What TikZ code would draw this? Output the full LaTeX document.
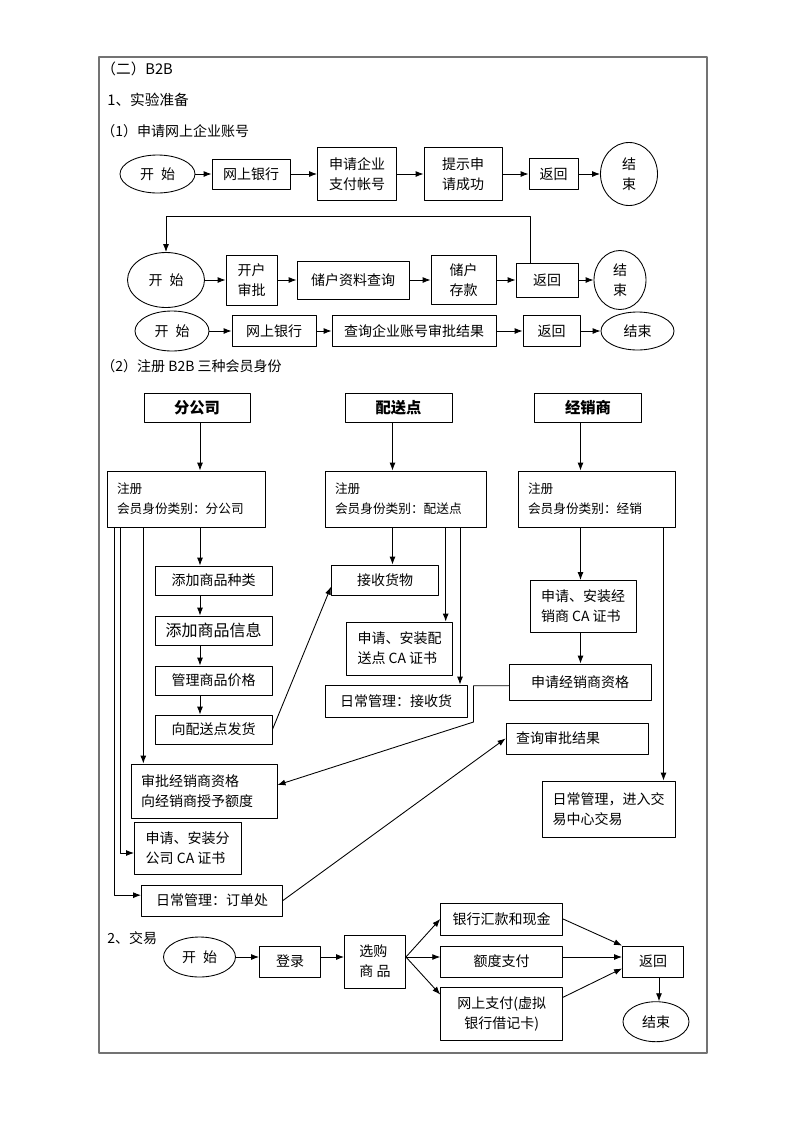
\documentclass[tikz,border=0pt]{standalone}
\usepackage{fontspec}
\setmainfont{Noto Sans CJK SC}
\usetikzlibrary{arrows.meta,shapes.geometric}

\tikzset{
  box/.style={draw, inner sep=0pt, align=center},
  oval/.style={draw, ellipse, inner sep=0pt, align=center},
  lbox/.style={draw, inner xsep=7.5pt, inner ysep=0pt, align=left, text width=#1},
  sz/.style 2 args={minimum width=#1*0.75pt, minimum height=#2*0.75pt},
  regfont/.style={font=\fontsize{9.5}{15}\selectfont},
  headfont/.style={font=\fontsize{11.5}{14}\selectfont\bfseries},
}
\newcommand{\kaishi}{开\hspace{0.5em}始}

\begin{document}
\begin{tikzpicture}[x=0.75pt, y=-0.75pt, line width=0.65pt, line cap=round, line join=round,
  >={Latex[length=6pt,width=4.5pt]}, font=\fontsize{10.5}{15}\selectfont]
	\useasboundingbox (0,0) rectangle (800,1132);
	% 外框
	\draw[black!55, line width=1.2pt] (99,57) rectangle (707,1053);
	% 标题
	\node[anchor=west, inner sep=0pt, font=\fontsize{11}{13}\selectfont] (title) at (101,69) {（二）B2B};
	\node[anchor=west, inner sep=0pt, font=\fontsize{11}{13}\selectfont] (sec1) at (107,100) {1、实验准备};
	\node[anchor=west, inner sep=0pt] (sub1) at (101,131) {（1）申请网上企业账号};

	% 第一行
	\node[oval, sz={75}{38}] (s1) at (157.5,174) {\kaishi};
	\node[box, sz={78}{30}] (n11) at (251,174) {网上银行};
	\node[box, sz={79}{53}] (n12) at (357,174) {申请企业\\支付帐号};
	\node[box, sz={78}{53}] (n13) at (463,174) {提示申\\请成功};
	\node[box, sz={49}{31}] (n14) at (553.5,174) {返回};
	\node[oval, sz={57}{63}] (e1) at (629,174) {结\\束};
	\draw[->] (s1) -- (n11);
	\draw[->] (n11) -- (n12);
	\draw[->] (n12) -- (n13);
	\draw[->] (n13) -- (n14);
	\draw[->] (n14) -- (e1);

	% 第二行
	\node[oval, sz={77}{55}] (s2) at (166,280) {\kaishi};
	\node[box, sz={51}{50}] (n21) at (251.5,280) {开户\\审批};
	\node[box, sz={112}{38}] (n22) at (353,280) {储户资料查询};
	\node[box, sz={65}{49}] (n23) at (463.5,280) {储户\\存款};
	\node[box, sz={62}{34}] (n24) at (547,280) {返回};
	\node[oval, sz={52}{59}] (e2) at (620,280) {结\\束};
	\draw[->] (s2) -- (n21);
	\draw[->] (n21) -- (n22);
	\draw[->] (n22) -- (n23);
	\draw[->] (n23) -- (n24);
	\draw[->] (n24) -- (e2);
	\coordinate (back) at (530,216);
	\draw[->] (n24.north -| back) -- (back) -| (s2.north);

	% 第三行
	\node[oval, sz={74}{40}] (s3) at (172,331) {\kaishi};
	\node[box, sz={84}{31}] (n31) at (274,331) {网上银行};
	\node[box, sz={164}{31}] (n32) at (414,331) {查询企业账号审批结果};
	\node[box, sz={57}{31}] (n33) at (551.5,331) {返回};
	\node[oval, sz={73}{38}] (e3) at (637.5,331) {结束};
	\draw[->] (s3) -- (n31);
	\draw[->] (n31) -- (n32);
	\draw[->] (n32) -- (n33);
	\draw[->] (n33) -- (e3);

	\node[anchor=west, inner sep=0pt] (sub2) at (101,366) {（2）注册 B2B 三种会员身份};

	% 三种会员
	\node[box, sz={106}{29}, headfont] (h1) at (197,407.5) {分公司};
	\node[box, sz={107}{29}, headfont] (h2) at (398.5,407.5) {配送点};
	\node[box, sz={107}{29}, headfont] (h3) at (588,407.5) {经销商};
	\node[lbox=103.5pt, sz={158}{56}, regfont] (r1) at (186,499) {注册\\会员身份类别：分公司};
	\node[lbox=105.75pt, sz={161}{56}, regfont] (r2) at (405.5,499) {注册\\会员身份类别：配送点};
	\node[lbox=102.75pt, sz={157}{56}, regfont] (r3) at (596.5,499) {注册\\会员身份类别：经销};

	% 分公司
	\node[box, sz={117}{29}] (a1) at (213.5,580.5) {添加商品种类};
	\node[box, sz={117}{29}, font=\fontsize{12}{14}\selectfont] (a2) at (213.5,630.5) {添加商品信息};
	\node[box, sz={117}{29}] (a3) at (213.5,680.5) {管理商品价格};
	\node[box, sz={117}{29}] (a4) at (213.5,729.5) {向配送点发货};
	\node[lbox=94.5pt, sz={146}{54}] (a5) at (204,791) {审批经销商资格\\向经销商授予额度};
	\node[box, sz={106.5}{52}, align=left] (a6) at (187.7,848) {申请、安装分\\公司 CA 证书};
	\node[box, sz={141}{31}] (a7) at (212,900.5) {日常管理：订单处};
	\coordinate (xa) at (200,0);
	\coordinate (xl1) at (114.3,0);
	\coordinate (xl2) at (120.5,0);
	\coordinate (xl3) at (143.3,0);
	\draw[->] (h1.south -| xa) -- (r1.north -| xa);
	\draw[->] (r1.south -| xa) -- (a1.north -| xa);
	\draw[->] (a1.south -| xa) -- (a2.north -| xa);
	\draw[->] (a2.south -| xa) -- (a3.north -| xa);
	\draw[->] (a3.south -| xa) -- (a4.north -| xa);
	\draw[->] (r1.south -| xl3) -- (a5.north -| xl3);
	\draw[->] (r1.south -| xl2) |- ([yshift=-3.75pt]a6.west);
	\draw[->] (r1.south -| xl1) |- ([yshift=4pt]a7.west);

	% 配送点
	\node[box, sz={107}{30}] (b1) at (385,580) {接收货物};
	\node[box, sz={106}{53}, align=left] (b2) at (399.5,648.5) {申请、安装配\\送点 CA 证书};
	\node[box, sz={142}{32}] (b3) at (396,701) {日常管理：接收货};
	\coordinate (xb1) at (392.5,0);
	\coordinate (xb2) at (445.7,0);
	\coordinate (xb3) at (460,0);
	\draw[->] (h2.south -| xb1) -- (r2.north -| xb1);
	\draw[->] (r2.south -| xb1) -- (b1.north -| xb1);
	\draw[->] (r2.south -| xb2) -- (b2.north -| xb2);
	\draw[->] (r2.south -| xb3) -- (b3.north -| xb3);
	\draw[->] (a4.east) -- ([yshift=-5pt]b1.west);

	% 经销商
	\node[box, sz={106}{52}, align=left] (c1) at (583,606.5) {申请、安装经\\销商 CA 证书};
	\node[box, sz={142}{36}] (c2) at (580,682) {申请经销商资格};
	\node[lbox=91.5pt, sz={142}{31}] (c3) at (577,738.5) {查询审批结果};
	\node[box, sz={133}{56}, align=left] (c4) at (608.5,809) {日常管理，进入交\\易中心交易};
	\coordinate (xc1) at (580.5,0);
	\coordinate (xc2) at (663.5,0);
	\coordinate (bend) at (473.5,722);
	\draw[->] (h3.south -| xc1) -- (r3.north -| xc1);
	\draw[->] (r3.south -| xc1) -- (c1.north -| xc1);
	\draw[->] (c1.south -| xc1) -- (c2.north -| xc1);
	\draw[->] (r3.south -| xc2) -- (c4.north -| xc2);
	\draw[->] ([yshift=-2.8pt]c2.west) -| (bend) -- ([yshift=4.5pt]a5.east);
	\draw[->] (a7.east) -- (c3.west);

	% 交易
	\node[anchor=west, inner sep=0pt] (sec2) at (107,938) {2、交易};
	\node[oval, sz={72}{40}] (s4) at (199.5,957) {\kaishi};
	\node[box, sz={61}{31}] (t1) at (290,961.5) {登录};
	\node[box, sz={61}{53}, align=left] (t2) at (375,961.5) {选购\\商 品};
	\node[box, sz={122}{32}] (t3) at (501.7,919) {银行汇款和现金};
	\node[box, sz={122}{31}] (t4) at (501.7,961.5) {额度支付};
	\node[box, sz={122}{53}] (t5) at (501.7,1013.5) {网上支付(虚拟\\银行借记卡)};
	\node[box, sz={61}{31}] (t6) at (653,961.5) {返回};
	\node[oval, sz={66}{40}] (e4) at (656,1021.7) {结束};
	\coordinate (ty) at (0,957);
	\coordinate (tx) at (659,0);
	\draw[->] (s4.east) -- (t1.west |- ty);
	\draw[->] (t1.east |- ty) -- (t2.west |- ty);
	\draw[->] (t2.east |- ty) -- (t3.west);
	\draw[->] (t2.east |- ty) -- (t4.west |- ty);
	\draw[->] (t2.east |- ty) -- ([yshift=-6pt]t5.north west);
	\draw[->] (t3.east) -- (t6.north west);
	\draw[->] (t4.east |- ty) -- (t6.west |- ty);
	\draw[->] ([yshift=-8pt]t5.north east) -- ([yshift=6.75pt]t6.south west);
	\draw[->] (t6.south -| tx) -- (e4.north -| tx);
\end{tikzpicture}
\end{document}
